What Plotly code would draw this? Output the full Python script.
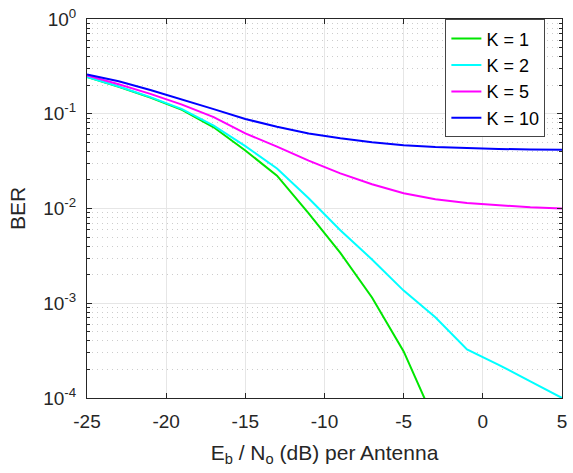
import plotly.graph_objects as go

# Eb/No sample points (dB per antenna)
snr_db = [-25, -23, -21, -19, -17, -15, -13, -11, -9, -7, -5, -3, -1, 1, 3, 5]

# Bit error rate for each number of users K
ber_k1 = [0.245, 0.193, 0.148, 0.110, 0.072, 0.041, 0.0222, 0.0089, 0.0034,
          0.00115, 0.00031, 5.5e-5, 6e-6, 5e-7, 3e-8, 1e-9]
ber_k2 = [0.245, 0.194, 0.150, 0.112, 0.075, 0.0456, 0.0264, 0.0128, 0.0059,
          0.0029, 0.00136, 0.00071, 0.000326, 0.000224, 0.00015, 0.0001]
ber_k5 = [0.254, 0.205, 0.162, 0.125, 0.092, 0.062, 0.045, 0.032, 0.0235,
          0.018, 0.0145, 0.0125, 0.0114, 0.0108, 0.0103, 0.0100]
ber_k10 = [0.26, 0.22, 0.178, 0.142, 0.112, 0.088, 0.073, 0.062, 0.055,
           0.050, 0.0465, 0.0445, 0.0432, 0.0425, 0.0420, 0.0417]

series = [("K = 1", ber_k1, "#00e600"),
          ("K = 2", ber_k2, "#00ffff"),
          ("K = 5", ber_k5, "#ff00ff"),
          ("K = 10", ber_k10, "#0000ff")]

x_ticks = [-25, -20, -15, -10, -5, 0, 5]
x_tick_text = ["-25", "-20", "-15", "-10", "-5", "0", "5"]
y_ticks = [1e-4, 1e-3, 1e-2, 1e-1, 1]
y_tick_text = ["10<sup>-4</sup>", "10<sup>-3</sup>", "10<sup>-2</sup>",
               "10<sup>-1</sup>", "10<sup>0</sup>"]

fig = go.Figure()
for name, ber, color in series:
    fig.add_trace(go.Scatter(x=snr_db, y=ber, mode="lines", name=name,
                             line=dict(color=color, width=2)))

axis_color = "#262626"
grid_color = "#e6e6e6"

fig.update_layout(
    width=573, height=473,
    margin=dict(l=87, r=6, t=16, b=75),
    paper_bgcolor="white", plot_bgcolor="white",
    font=dict(family="Liberation Sans, Arial, sans-serif", size=19, color=axis_color),
    showlegend=True,
    legend=dict(x=0.965, y=0.999, xanchor="right", yanchor="top",
                bordercolor="#444444", borderwidth=1, bgcolor="white",
                font=dict(size=18, color="#000000"), tracegroupgap=0),
)

fig.update_xaxes(
    range=[-25, 5], tickvals=x_ticks, ticktext=x_tick_text,
    ticks="inside", ticklen=5, tickcolor=axis_color, ticklabelstandoff=6,
    showline=True, linecolor=axis_color, linewidth=1, mirror="allticks",
    showgrid=True, gridcolor=grid_color, gridwidth=1, zeroline=False,
    title=dict(text="E<sub>b</sub> / N<sub>o</sub> (dB) per Antenna",
               font=dict(size=21), standoff=14),
)

fig.update_yaxes(
    type="log", range=[-4, 0], tickvals=y_ticks, ticktext=y_tick_text,
    ticks="inside", ticklen=5, tickcolor=axis_color, ticklabelstandoff=6,
    showline=True, linecolor=axis_color, linewidth=1, mirror="allticks",
    showgrid=True, gridcolor=grid_color, gridwidth=1, zeroline=False,
    minor=dict(ticks="inside", ticklen=3, tickcolor=axis_color,
               showgrid=True, gridcolor="#cccccc", griddash="1px,4px", gridwidth=1,
               dtick="D1"),
    title=dict(text="BER", font=dict(size=21), standoff=11),
)

fig.write_html("out.html")
